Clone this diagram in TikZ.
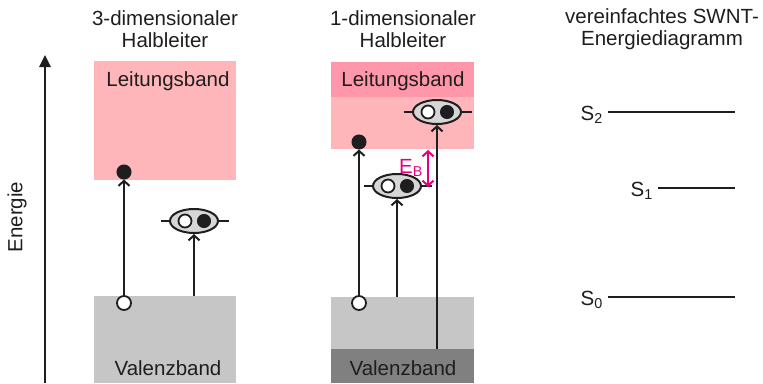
\documentclass[tikz,border=0pt]{standalone}
\usepackage{fontspec}
\setmainfont{Liberation Sans}
\usetikzlibrary{shapes.geometric,arrows.meta}
\definecolor{cbpink}{HTML}{FFB6BA}
\definecolor{cbpinkdark}{HTML}{FF97AB}
\definecolor{vblight}{HTML}{C6C6C6}
\definecolor{vbdark}{HTML}{808080}
\definecolor{excfill}{HTML}{D6D6D6}
\definecolor{ink}{HTML}{1E1E1E}
\definecolor{ebmag}{HTML}{E6007E}
\tikzset{
  lbl/.style={font=\fontsize{20.5}{22.5}\selectfont, text=ink, inner sep=0pt, align=center},
  elec/.style={circle, fill=ink, draw=ink, line width=1pt, minimum size=14pt, inner sep=0pt},
  hole/.style={circle, fill=white, draw=ink, line width=1.8pt, minimum size=14pt, inner sep=0pt},
  excbody/.style={ellipse, draw=ink, fill=excfill, line width=2pt, minimum width=48pt, minimum height=24pt, inner sep=0pt},
  trans/.style={draw=ink, line width=2pt, -{Straight Barb[length=5pt,width=11pt,line width=2pt]}},
  level/.style={draw=ink, line width=2.5pt},
  exciton/.pic={
    \draw[draw=ink, line width=2pt] (-33,0) -- (35,0);
    \node[excbody] (-body) at (0,0) {};
    \node[hole, minimum size=13pt] (-h) at (-9,0) {};
    \node[elec, minimum size=13pt] (-e) at (10,0) {};
  }
}
\begin{document}
\begin{tikzpicture}[x=1pt,y=-1pt]
\useasboundingbox (0,0) rectangle (763,383);
% energy axis
\coordinate (axb) at (45,383);
\coordinate (axt) at (45,55);
\draw[draw=ink, line width=2.5pt, -{Triangle[length=12pt,width=11pt]}] (axb) -- (axt);
\node[lbl, rotate=90] (energie) at (17,217) {Energie};

% ---------- left panel
\node[lbl] (t1) at (165,29) {3-dimensionaler\\Halbleiter};
\fill[cbpink] (94,61) rectangle (236,180);
\fill[vblight] (94,296) rectangle (236,383);
\node[lbl] (lb1) at (168,81) {Leitungsband};
\node[lbl] (vb1) at (168,368) {Valenzband};
\node[elec] (e1) at (124,172) {};
\node[hole] (h1) at (124,303) {};
\draw[trans] (h1) -- (e1);
\pic (ex1) at (194,221) {exciton};
\coordinate (s1) at (194,296);
\draw[trans] (s1) -- (ex1-body.south);

% ---------- middle panel
\node[lbl] (t2) at (403,29) {1-dimensionaler\\Halbleiter};
\fill[cbpink] (331,97) rectangle (474,149);
\fill[cbpinkdark] (331,62) rectangle (474,97);
\fill[vblight] (331,297) rectangle (474,349);
\fill[vbdark] (331,349) rectangle (474,383);
\node[lbl] (lb2) at (403,81) {Leitungsband};
\node[lbl] (vb2) at (403,368) {Valenzband};
\node[elec] (e2) at (359,142) {};
\node[hole] (h2) at (359,303) {};
\draw[trans] (h2) -- (e2);
\pic (ex2) at (437,112) {exciton};
\pic (ex3) at (397,186) {exciton};
\coordinate (s2) at (397,297);
\coordinate (s3) at (437,349);
\draw[trans] (s2) -- (ex3-body.south);
\draw[trans] (s3) -- (ex2-body.south);
\coordinate (eba) at (428,150);
\coordinate (ebb) at (428,187);
\draw[draw=ebmag, line width=2pt, {Straight Barb[length=5pt,width=11pt,line width=2pt]}-{Straight Barb[length=5pt,width=11pt,line width=2pt]}] (eba) -- (ebb);
\node[lbl, text=ebmag] (eb) at (411,168) {E\textsubscript{B}};

% ---------- right panel
\node[lbl] (t3) at (662,29) {vereinfachtes SWNT-\\Energiediagramm};
\coordinate (s2a) at (608,112); \coordinate (s2b) at (735,112);
\coordinate (s1a) at (658,188); \coordinate (s1b) at (735,188);
\coordinate (s0a) at (608,297); \coordinate (s0b) at (735,297);
\draw[level] (s2a) -- (s2b);
\draw[level] (s1a) -- (s1b);
\draw[level] (s0a) -- (s0b);
\node[lbl, anchor=east] (ls2) at (603,115) {S\textsubscript{2}};
\node[lbl, anchor=east] (ls1) at (653,191) {S\textsubscript{1}};
\node[lbl, anchor=east] (ls0) at (603,300) {S\textsubscript{0}};
\end{tikzpicture}
\end{document}
